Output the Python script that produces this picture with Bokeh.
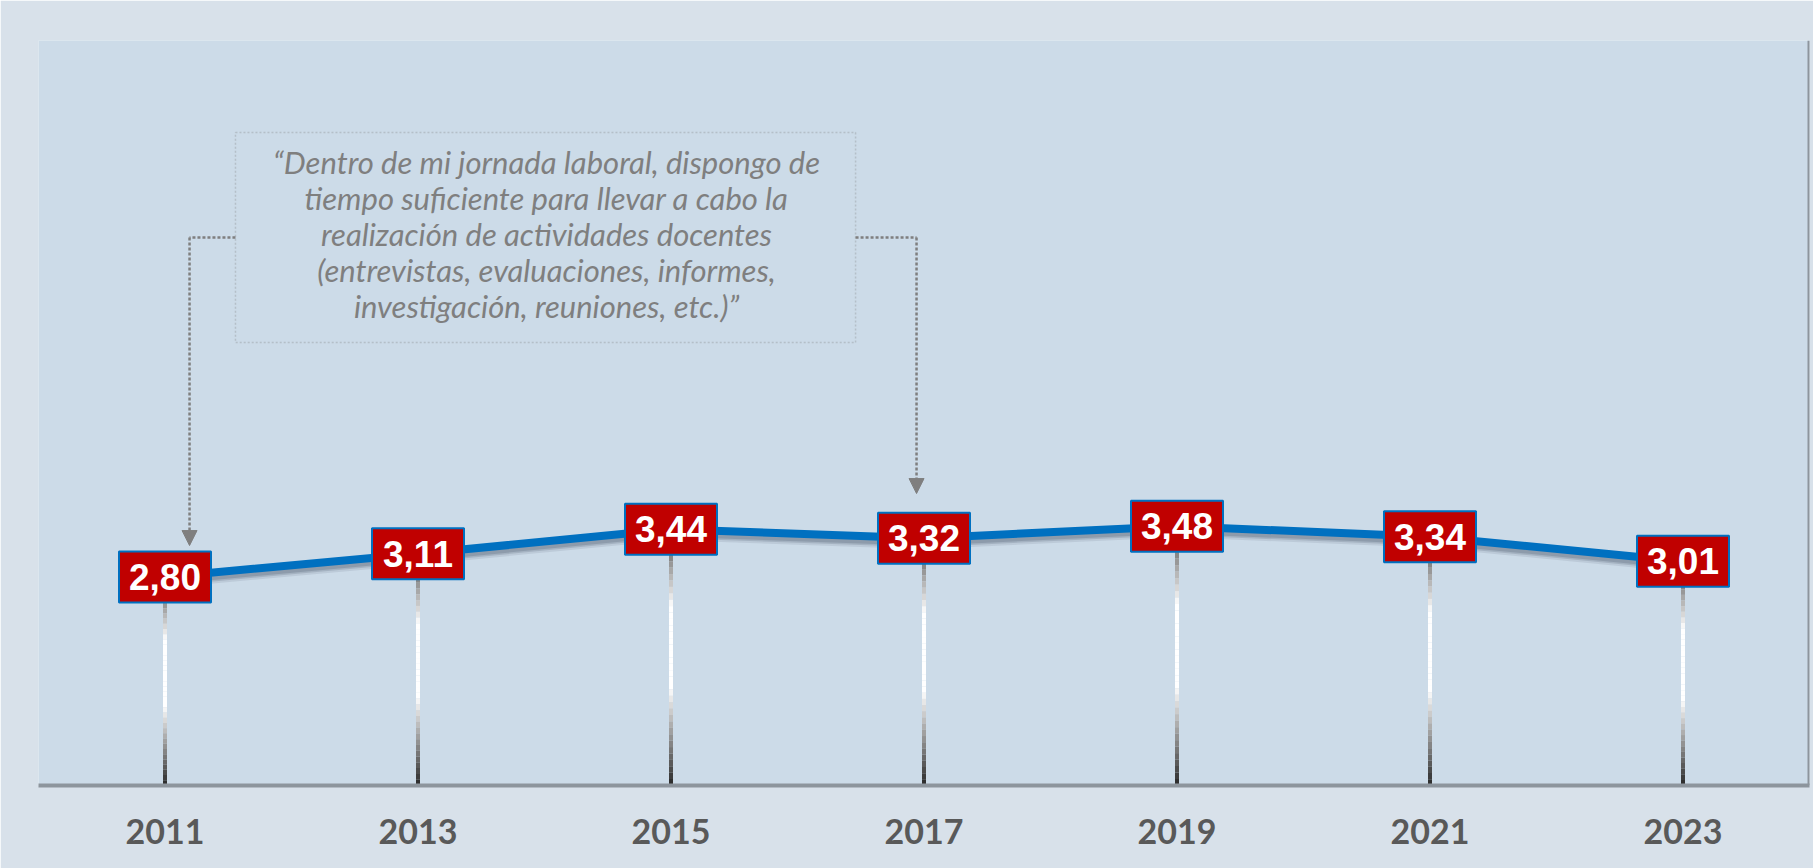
from bokeh.plotting import figure
from bokeh.models import ColumnDataSource, FixedTicker, BoxAnnotation, Arrow, NormalHead, Span
from bokeh.core.properties import value
from bokeh.embed import file_html
from bokeh.resources import INLINE

# ---- data ----
years = [2011, 2013, 2015, 2017, 2019, 2021, 2023]
year_labels = ["2011", "2013", "2015", "2017", "2019", "2021", "2023"]
scores = [2.80, 3.11, 3.44, 3.32, 3.48, 3.34, 3.01]
score_labels = ["2,80", "3,11", "3,44", "3,32", "3,48", "3,34", "3,01"]
quote_lines = [
    "\u201cDentro de mi jornada laboral, dispongo de",
    "tiempo suficiente para llevar a cabo la",
    "realizaci\u00f3n de actividades docentes",
    "(entrevistas, evaluaciones, informes,",
    "investigaci\u00f3n, reuniones, etc.)\u201d",
]

# ---- layout constants (annotation placement, in data units) ----
X_RANGE = (2010, 2024)
Y_RANGE = (0, 10)
NOTE_LEFT, NOTE_RIGHT, NOTE_TOP, NOTE_BOTTOM = 2011.557, 2016.459, 8.765, 5.946
NOTE_CX, NOTE_CY = 2014.016, 7.356
NOTE_TEXT_Y = 7.40
ARROW_L_X, ARROW_L_TIP = 2011.194, 3.221
ARROW_R_X, ARROW_R_TIP = 2016.941, 3.919

BLUE = "#0070c0"
RED = "#c00000"
GRAY = "#7f7f7f"

p = figure(width=1813, height=868, x_range=X_RANGE, y_range=Y_RANGE,
           output_backend="svg", toolbar_location=None,
           min_border_left=38, min_border_right=4, min_border_top=40,
           min_border_bottom=83)
p.title.visible = False
p.xgrid.visible = False
p.ygrid.visible = False
p.yaxis.visible = False
p.outline_line_color = None
p.background_fill_color = "#ccdbe8"
p.border_fill_color = "#d8e1ea"

ax = p.xaxis[0]
ax.ticker = FixedTicker(ticks=years)
ax.major_label_overrides = {y: l for y, l in zip(years, year_labels)}
ax.major_label_text_font = "Lato"
ax.major_label_text_font_style = "bold"
ax.major_label_text_font_size = "34px"
ax.major_label_text_color = "#595959"
ax.major_tick_line_color = None
ax.minor_tick_line_color = None
ax.axis_line_color = "#8d959d"
ax.axis_line_width = 4
ax.major_label_standoff = 27

# right-edge shadow of the plot panel
p.add_layout(Span(location=X_RANGE[1], dimension="height",
                  line_color="#8d959d", line_width=4))

# ---- stems with a gray/white/black gradient ----
stops = [(0.0, 128), (0.1, 128), (0.3, 255), (0.62, 255), (1.0, 40)]


def shade(t):
    for (t0, c0), (t1, c1) in zip(stops[:-1], stops[1:]):
        if t0 <= t <= t1:
            f = 0 if t1 == t0 else (t - t0) / (t1 - t0)
            c = int(round(c0 + (c1 - c0) * f))
            return "#%02x%02x%02x" % (c, c, c)
    return "#282828"


N = 40
sx, sy0, sy1, sc = [], [], [], []
for x, y in zip(years, scores):
    for i in range(N):
        sx.append(x)
        sy0.append(y - y * i / N)
        sy1.append(y - y * (i + 1) / N)
        sc.append(shade((i + 0.5) / N))
p.segment(x0="x", y0="y0", x1="x", y1="y1", color="c", line_width=4,
          source=ColumnDataSource(dict(x=sx, y0=sy0, y1=sy1, c=sc)))

# ---- line with a soft shadow ----
px_per_unit = 745 / (Y_RANGE[1] - Y_RANGE[0])
for off, alpha in [(7, 0.12), (5, 0.2), (3.5, 0.25)]:
    p.line(years, [s - off / px_per_unit for s in scores],
           line_color="#46566a", line_alpha=alpha, line_width=8)
p.line(years, scores, line_color=BLUE, line_width=8)

# ---- value boxes ----
src = ColumnDataSource(dict(x=years, y=scores, label=score_labels))
p.rect(x="x", y="y", width=92, height=51, width_units="screen",
       height_units="screen", fill_color=RED, line_color=BLUE,
       line_width=2, source=src)
p.text(x="x", y="y", text="label", source=src,
       text_font=value("Liberation Sans"), text_font_style="bold",
       text_font_size="37px", text_color="white", text_align="center",
       text_baseline="middle")

# ---- quote annotation ----
p.add_layout(BoxAnnotation(left=NOTE_LEFT, right=NOTE_RIGHT, top=NOTE_TOP,
                           bottom=NOTE_BOTTOM, fill_alpha=0,
                           line_color=GRAY, line_width=1.5, line_dash="2 2"))
p.text(x=[NOTE_CX], y=[NOTE_TEXT_Y], text=["\n".join(quote_lines)],
       text_font=value("Lato"), text_font_style="italic",
       text_font_size="31px", text_color=GRAY, text_align="center",
       text_baseline="middle", text_line_height=0.95)

p.line([NOTE_LEFT, ARROW_L_X], [NOTE_CY, NOTE_CY], line_color=GRAY,
       line_width=2.5, line_dash="3 2")
p.line([NOTE_RIGHT, ARROW_R_X], [NOTE_CY, NOTE_CY], line_color=GRAY,
       line_width=2.5, line_dash="3 2")
for ax_x, tip in [(ARROW_L_X, ARROW_L_TIP), (ARROW_R_X, ARROW_R_TIP)]:
    p.add_layout(Arrow(end=NormalHead(size=15, fill_color=GRAY,
                                      line_color=GRAY, line_width=1),
                       x_start=ax_x, y_start=NOTE_CY, x_end=ax_x, y_end=tip,
                       line_color=GRAY, line_width=2.5, line_dash="3 2"))

open("out.html", "w").write(file_html(p, INLINE))
